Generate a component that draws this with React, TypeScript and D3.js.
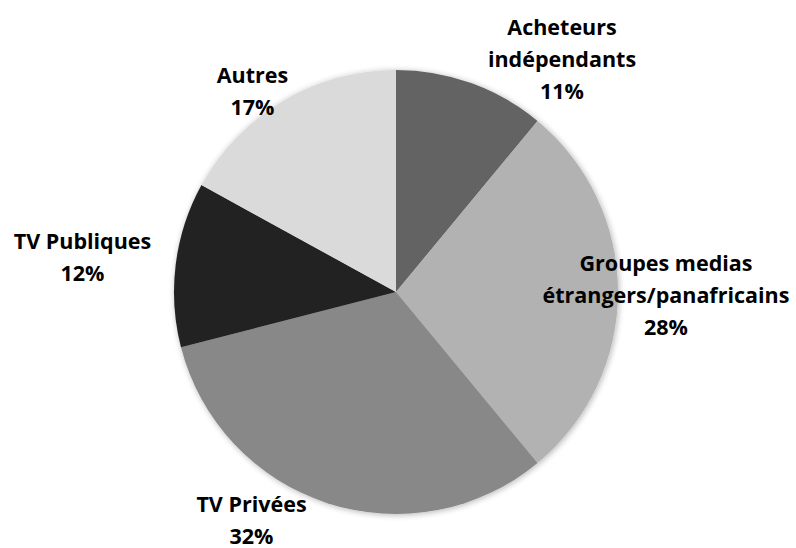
import React, { useEffect, useRef } from 'react';
import * as d3 from 'd3';

const categories = ['Acheteurs indépendants', 'Groupes medias étrangers/panafricains', 'TV Privées', 'TV Publiques', 'Autres'];
const shares = [11, 28, 32, 12, 17];
const labelLines = [
  ['Acheteurs', 'indépendants', '11%'],
  ['Groupes medias', 'étrangers/panafricains', '28%'],
  ['TV Privées', '32%'],
  ['TV Publiques', '12%'],
  ['Autres', '17%'],
];

// where Excel put each label (centre x, first baseline), relative to the pie centre
const labelPos = [
  [166, -257],
  [270, -21],
  [-144.5, 220],
  [-313.5, -43],
  [-143.5, -209],
];
const fills = ['#636363', '#b2b2b2', '#888888', '#222222', '#dadada'];

const App = () => {
  const svgRef = useRef(null);

  useEffect(() => {
    const width = 796;
    const height = 548;
    const cx = 396;
    const cy = 292;
    const radius = 222;
    const svg = d3.select(svgRef.current);
    svg.selectAll('*').remove();

    const defs = svg.append('defs');
    const filter = defs.append('filter').attr('id', 'shadow').attr('x', '-10%').attr('y', '-10%').attr('width', '120%').attr('height', '120%');
    filter.append('feGaussianBlur').attr('in', 'SourceAlpha').attr('stdDeviation', 3);
    filter.append('feOffset').attr('dx', 1).attr('dy', 1).attr('result', 'off');
    filter.append('feComponentTransfer').append('feFuncA').attr('type', 'linear').attr('slope', 0.3);
    const merge = filter.append('feMerge');
    merge.append('feMergeNode');
    merge.append('feMergeNode').attr('in', 'SourceGraphic');

    const data = categories.map((c, i) => ({ category: c, value: shares[i], i }));
    const pie = d3.pie().value((d) => d.value).sort(null);
    const arc = d3.arc().innerRadius(0).outerRadius(radius);

    const g = svg.append('g').attr('transform', `translate(${cx},${cy})`);

    g.append('g')
      .attr('filter', 'url(#shadow)')
      .selectAll('path')
      .data(pie(data))
      .enter()
      .append('path')
      .attr('d', arc)
      .attr('fill', (d) => fills[d.data.i]);

    const labels = g
      .selectAll('text.label')
      .data(pie(data))
      .enter()
      .append('text')
      .attr('class', 'label')
      .attr('text-anchor', 'middle')
      .attr('font-family', '"Open Sans", sans-serif')
      .attr('font-weight', 'bold')
      .attr('font-size', 21.5)
      .attr('fill', '#000');

    labels
      .selectAll('tspan')
      .data((d) => labelLines[d.data.i].map((t) => ({ t, i: d.data.i })))
      .enter()
      .append('tspan')
      .attr('x', (d) => labelPos[d.i][0])
      .attr('y', (d, j) => labelPos[d.i][1] + j * 32)
      .text((d) => d.t);

    svg.attr('width', width).attr('height', height);
  }, []);

  return (
    <div style={{ position: 'absolute', left: 0, top: 0, width: 796, height: 548, background: '#fff', overflow: 'hidden' }}>
      <svg ref={svgRef} width="796" height="548" style={{ display: 'block' }}></svg>
    </div>
  );
};

export default App;
